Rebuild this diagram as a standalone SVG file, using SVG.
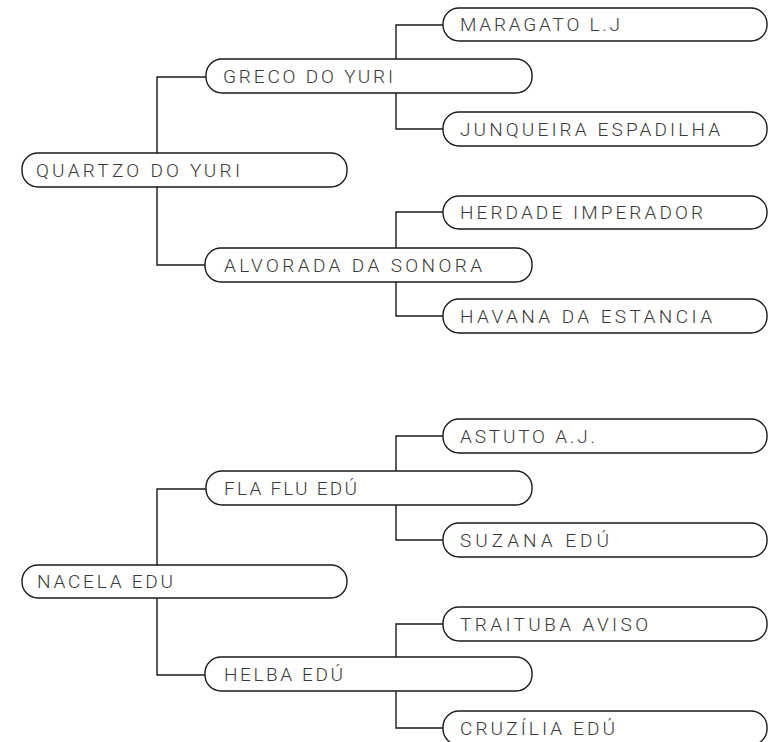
<svg xmlns="http://www.w3.org/2000/svg" width="776" height="742" viewBox="0 0 776 742">
<style>
.box{fill:#fff;stroke:#1a1a1a;stroke-width:1.4}
.lbl{font-family:Roboto,"Liberation Sans",Arial,sans-serif;font-weight:300;font-size:19px;fill:#3a3a3a}
.con{fill:none;stroke:#1a1a1a;stroke-width:1.4}
</style>
<rect width="776" height="742" fill="#fff"/>
<g id="connectors">
<path class="con" d="M206,77 H157 V153 M157,187 V265 H206"/>
<path class="con" d="M443,25 H396 V59 M396,93 V129 H443"/>
<path class="con" d="M443,212 H396 V248 M396,282 V316 H443"/>
<path class="con" d="M206,489 H157 V565 M157,598 V675 H206"/>
<path class="con" d="M443,436 H396 V471 M396,505 V540 H443"/>
<path class="con" d="M443,624 H396 V657 M396,691 V728 H443"/>
</g>
<g id="n-maragato"><rect class="box" x="443" y="8" width="324" height="33" rx="16"/><text class="lbl" x="460" y="31.3" textLength="160" lengthAdjust="spacing">MARAGATO L.J</text></g>
<g id="n-greco"><rect class="box" x="206" y="59" width="326" height="34" rx="16"/><text class="lbl" x="223" y="82.8" textLength="170" lengthAdjust="spacing">GRECO DO YURI</text></g>
<g id="n-junqueira"><rect class="box" x="443" y="112" width="324" height="34" rx="16"/><text class="lbl" x="460" y="135.8" textLength="260" lengthAdjust="spacing">JUNQUEIRA ESPADILHA</text></g>
<g id="n-quartzo"><rect class="box" x="22" y="153" width="325" height="34" rx="16"/><text class="lbl" x="36" y="176.8" textLength="204" lengthAdjust="spacing">QUARTZO DO YURI</text></g>
<g id="n-herdade"><rect class="box" x="443" y="196" width="324" height="33" rx="16"/><text class="lbl" x="460" y="219.3" textLength="243" lengthAdjust="spacing">HERDADE IMPERADOR</text></g>
<g id="n-alvorada"><rect class="box" x="205" y="248" width="327" height="34" rx="16"/><text class="lbl" x="224" y="271.8" textLength="258" lengthAdjust="spacing">ALVORADA DA SONORA</text></g>
<g id="n-havana"><rect class="box" x="443" y="299" width="324" height="34" rx="16"/><text class="lbl" x="460" y="322.8" textLength="252" lengthAdjust="spacing">HAVANA DA ESTANCIA</text></g>
<g id="n-astuto"><rect class="box" x="443" y="419" width="324" height="34" rx="16"/><text class="lbl" x="460" y="442.8" textLength="135" lengthAdjust="spacing">ASTUTO A.J.</text></g>
<g id="n-flaflu"><rect class="box" x="206" y="471" width="326" height="34" rx="16"/><text class="lbl" x="224" y="494.8" textLength="133" lengthAdjust="spacing">FLA FLU EDÚ</text></g>
<g id="n-suzana"><rect class="box" x="443" y="523" width="324" height="34" rx="16"/><text class="lbl" x="460" y="546.8" textLength="149" lengthAdjust="spacing">SUZANA EDÚ</text></g>
<g id="n-nacela"><rect class="box" x="22" y="565" width="325" height="33" rx="16"/><text class="lbl" x="37" y="588.3" textLength="136" lengthAdjust="spacing">NACELA EDU</text></g>
<g id="n-traituba"><rect class="box" x="443" y="607" width="324" height="34" rx="16"/><text class="lbl" x="460" y="630.8" textLength="188" lengthAdjust="spacing">TRAITUBA AVISO</text></g>
<g id="n-helba"><rect class="box" x="205" y="657" width="327" height="34" rx="16"/><text class="lbl" x="224" y="680.8" textLength="119" lengthAdjust="spacing">HELBA EDÚ</text></g>
<g id="n-cruzilia"><rect class="box" x="443" y="711" width="324" height="34" rx="16"/><text class="lbl" x="460" y="734.8" textLength="155" lengthAdjust="spacing">CRUZÍLIA EDÚ</text></g>
</svg>
